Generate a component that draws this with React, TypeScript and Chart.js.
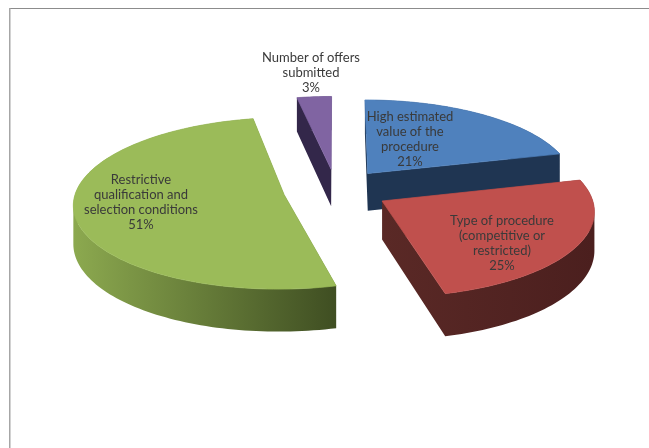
import React, { useEffect, useRef } from "react";
import { Chart, registerables } from "chart.js";

Chart.register(...registerables);

const categories: string[][] = [
  ["High estimated", "value of the", "procedure"],
  ["Type of procedure", "(competitive or", "restricted)"],
  ["Restrictive", "qualification and", "selection conditions"],
  ["Number of offers", "submitted"],
];
const shares = [21, 25, 51, 3];
const topColors = ["#4F81BD", "#C0504D", "#9BBB59", "#8064A2"];
const sideColorsFrom = ["#1F3552", "#5A2926", "#8CA94F", "#33274A"];
const sideColorsTo = ["#1F3552", "#4B1F1E", "#3F4E22", "#33274A"];
const labelAnchors = [
  [410, 117],
  [502, 221],
  [141, 180],
  [311, 58],
];
const drawOrder = [3, 0, 2, 1];

const VIEW = { cx: 336, cy: 190, rx: 208, ry: 84, persp: 0.1, depth: 38, explode: 0.254 };

const project = (U: number, V: number) => {
  const w = 1 + VIEW.persp * V;
  return { x: VIEW.cx + (VIEW.rx * U) / w, y: VIEW.cy - (VIEW.ry * V) / w, w };
};

const pie3d = {
  id: "pie3d",
  beforeDraw(chart: any) {
    const { ctx, width, height } = chart;
    ctx.save();
    ctx.fillStyle = "#ffffff";
    ctx.fillRect(0, 0, width, height);
    ctx.fillStyle = "#8C8C8C";
    ctx.fillRect(9, 8, width - 9, 1);
    ctx.fillStyle = "#A6A6A6";
    ctx.fillRect(9, 8, 1.5, height - 8);
    ctx.restore();
  },
  beforeDatasetsDraw(chart: any) {
    const { ctx } = chart;
    const arcs = chart.getDatasetMeta(0).data;
    drawOrder.forEach((i) => {
      const { startAngle, endAngle } = arcs[i].getProps(["startAngle", "endAngle"], true);
      const mid = (startAngle + endAngle) / 2;
      const ox = Math.cos(mid) * VIEW.explode;
      const oy = -Math.sin(mid) * VIEW.explode;
      const pts = [project(ox, oy)];
      const n = Math.max(4, Math.ceil((endAngle - startAngle) * 40));
      for (let k = 0; k <= n; k++) {
        const a = startAngle + ((endAngle - startAngle) * k) / n;
        pts.push(project(ox + Math.cos(a), oy - Math.sin(a)));
      }
      const xs = pts.map((p) => p.x);
      const grad = ctx.createLinearGradient(Math.min(...xs), 0, Math.max(...xs), 0);
      grad.addColorStop(0, sideColorsFrom[i]);
      grad.addColorStop(1, sideColorsTo[i]);
      ctx.save();
      ctx.fillStyle = grad;
      ctx.beginPath();
      pts.forEach((p, k) => {
        const q = pts[(k + 1) % pts.length];
        const quad = [
          [p.x, p.y],
          [q.x, q.y],
          [q.x, q.y + VIEW.depth / q.w],
          [p.x, p.y + VIEW.depth / p.w],
        ];
        // every quad wound the same way, so the non-zero fill leaves no seams
        const area = quad.reduce((s, c, j) => {
          const d = quad[(j + 1) % 4];
          return s + c[0] * d[1] - d[0] * c[1];
        }, 0);
        if (area < 0) quad.reverse();
        quad.forEach((c, j) => (j ? ctx.lineTo(c[0], c[1]) : ctx.moveTo(c[0], c[1])));
        ctx.closePath();
      });
      ctx.fill();
      ctx.beginPath();
      pts.forEach((p, k) => (k ? ctx.lineTo(p.x, p.y) : ctx.moveTo(p.x, p.y)));
      ctx.closePath();
      ctx.fillStyle = topColors[i];
      ctx.strokeStyle = topColors[i];
      ctx.lineWidth = 0.7;
      ctx.fill();
      ctx.stroke();
      ctx.restore();
    });
    return false;
  },
  afterDraw(chart: any) {
    const { ctx } = chart;
    ctx.save();
    ctx.font = '13px Lato, "Open Sans", sans-serif';
    ctx.fillStyle = "#3A3A3A";
    ctx.textAlign = "center";
    ctx.textBaseline = "middle";
    categories.forEach((lines, i) => {
      const [x, y] = labelAnchors[i];
      [...lines, `${shares[i]}%`].forEach((t, k) => ctx.fillText(t, x, y + k * 15));
    });
    ctx.restore();
  },
};

export default function App() {
  const ref = useRef<HTMLCanvasElement>(null);
  useEffect(() => {
    document.body.style.margin = "0";
    const chart = new Chart(ref.current!, {
      type: "pie",
      data: {
        labels: categories.map((c) => c.join(" ")),
        datasets: [{ data: shares, backgroundColor: topColors, borderWidth: 0 }],
      },
      options: {
        responsive: false,
        animation: false,
        plugins: { legend: { display: false }, tooltip: { enabled: false } },
      },
      plugins: [pie3d],
    });
    return () => chart.destroy();
  }, []);
  return <canvas ref={ref} width={649} height={448} style={{ display: "block" }} />;
}
